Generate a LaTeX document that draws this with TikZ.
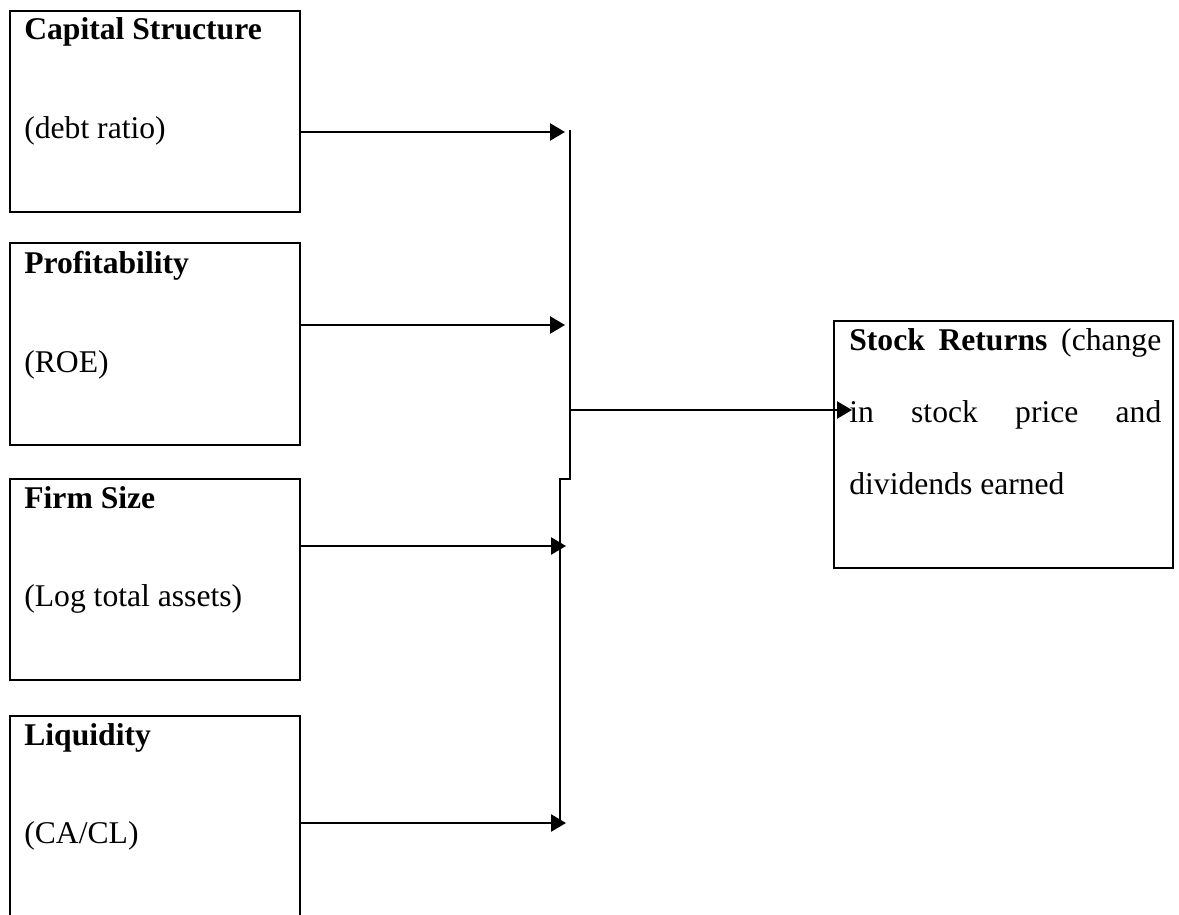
\documentclass[tikz,border=0pt]{standalone}
\usepackage{fontspec}
\setmainfont{Liberation Serif}
\usetikzlibrary{arrows.meta}
\newcommand{\vartext}[2]{\parbox[t]{5.6cm}{\fontsize{18}{56}\selectfont\textbf{#1}\\#2}}

\begin{document}
\begin{tikzpicture}[x=0.02cm, y=-0.02cm,
    box/.style={draw, line width=1.5pt, minimum width=5.8cm, minimum height=4.02cm, inner sep=0pt},
    lbl/.style={anchor=base west, inner sep=0pt},
    arr/.style={line width=1.4pt, -{Triangle[length=0.3cm, width=0.34cm]}}
    ]
    \useasboundingbox (0,0) rectangle (1179,915);
    \clip (0,0) rectangle (1179,915);
    \node[box] (cs) at (155,111.5) {};
    \node[box, minimum height=4.04cm] (pr) at (155,344) {};
    \node[box] (fs) at (155,579.5) {};
    \node[box, minimum height=4.2cm] (lq) at (155,821) {};
    \node[box, minimum width=6.78cm, minimum height=4.94cm] (sr) at (1003.5,444.5) {};
    \node[lbl] (cs-t) at (24,40) {\vartext{Capital Structure}{(debt ratio)}};
    \node[lbl] (pr-t) at (24,274) {\vartext{Profitability}{(ROE)}};
    \node[lbl] (fs-t) at (24,508) {\vartext{Firm Size}{(Log total assets)}};
    \node[lbl] (lq-t) at (24,745) {\vartext{Liquidity}{(CA/CL)}};
    \node[lbl] (sr-t) at (849,350) {\parbox[t]{6.24cm}{\fontsize{18}{41}\selectfont
      \textbf{Stock Returns} (change\linebreak in stock price and\linebreak dividends earned}};
    \coordinate (j1) at (565,132);
    \coordinate (j2) at (565,325);
    \coordinate (j3) at (566,546);
    \coordinate (j4) at (566,823);
    \coordinate (bus top) at (570,130);
    \coordinate (bus step) at (570,479);
    \coordinate (bus end) at (560,823);
    \coordinate (out) at (852,410);
    \draw[arr] (cs.east |- j1) -- (j1);
    \draw[arr] (pr.east |- j2) -- (j2);
    \draw[arr] (fs.east |- j3) -- (j3);
    \draw[arr] (lq.east |- j4) -- (j4);
    \draw[line width=1.2pt] (bus top) -- (bus step) -- ++(-10,0) -- (bus end);
    \draw[arr] (bus top |- out) -- (out);
\end{tikzpicture}
\end{document}
